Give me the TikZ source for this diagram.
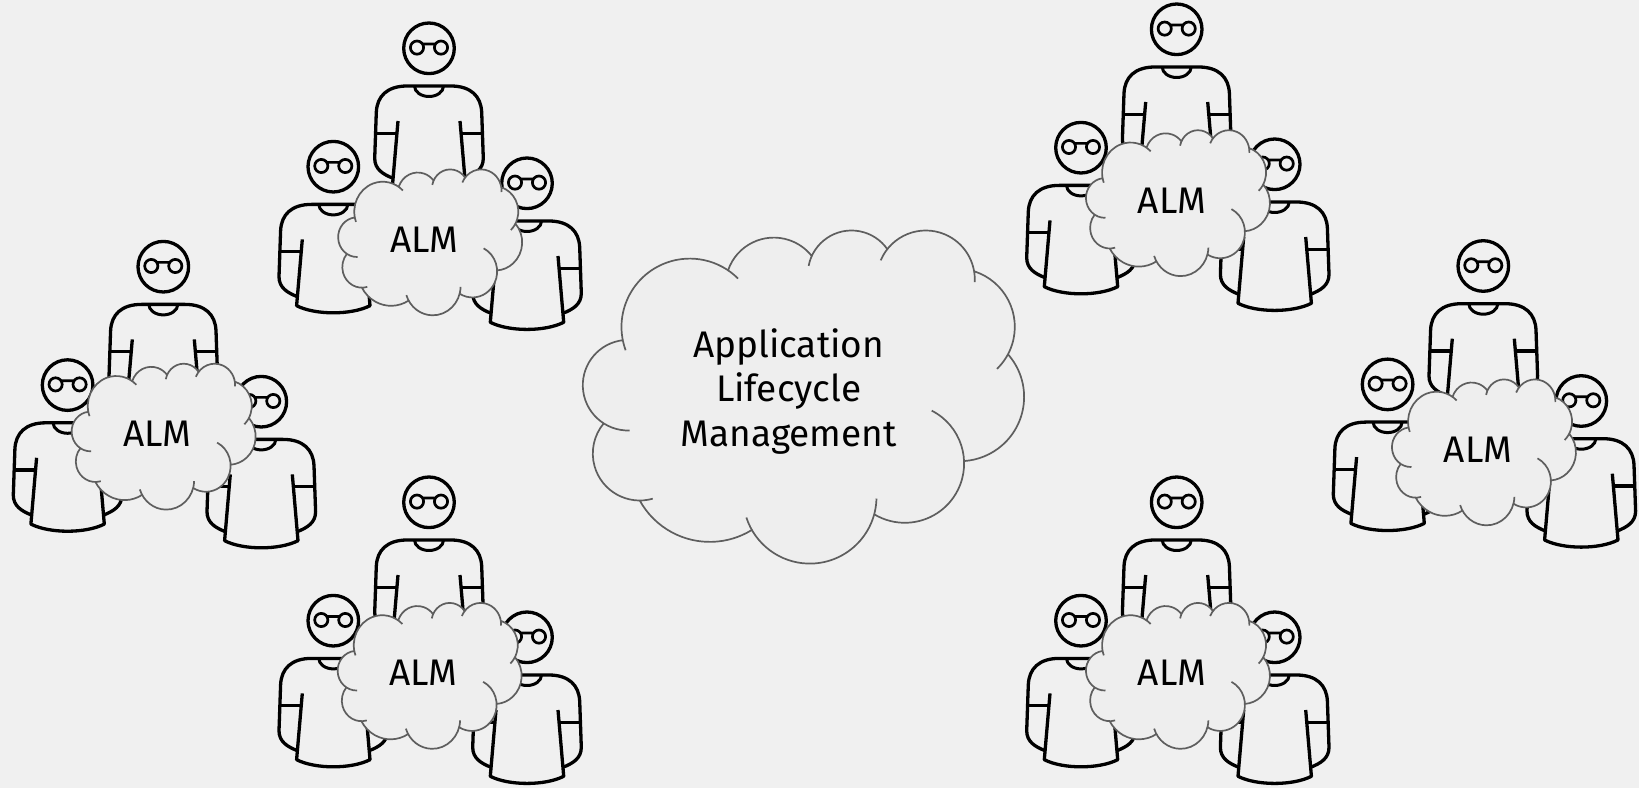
\documentclass[tikz,border=0pt]{standalone}
\usepackage{fontspec}
\setmainfont{Fira Sans}
\definecolor{canvas}{HTML}{F0F0F0}
\definecolor{puffgray}{HTML}{EEEEEE}
\definecolor{edgegray}{HTML}{5E5E5E}
\definecolor{ink}{HTML}{000000}

\tikzset{
  x=1pt, y=1pt,
  personline/.style={draw=ink, line width=3.3pt, line join=round},
  glassline/.style={draw=ink, line width=2.7pt},
  cloudstroke/.style={draw=edgegray, line width=1.7pt},
  almtext/.style={font=\fontsize{37}{45}\selectfont, text=ink, inner sep=0pt},
  coretext/.style={font=\fontsize{37}{44.5}\selectfont, text=ink, inner sep=0pt, align=center},
  % one person, origin at the centre of the head
  person/.pic={
    \fill[canvas] (0,0) circle[radius=25.3];
    \draw[personline] (0,0) circle[radius=25.3];
    \draw[glassline] (-12,0.7) circle[radius=6.6] (12,0.7) circle[radius=6.6]
      (-6.5,4.3) -- (6.5,4.3);
    \fill[canvas] (-35.9,-130) .. controls (-46,-126) and (-54.3,-121) .. (-54.3,-110)
      -- (-52.7,-64) .. controls (-52,-48) and (-42,-37.7) .. (-21.7,-37.7)
      -- (21.7,-37.7) .. controls (42,-37.7) and (52,-48) .. (52.7,-64)
      -- (54.3,-110) .. controls (54.3,-121) and (46,-126) .. (35.9,-130)
      -- (36.7,-139) .. controls (18,-148.5) and (-18,-148.5) .. (-36.7,-139) -- cycle;
    % arms and shoulders
    \draw[personline] (-35.9,-130) .. controls (-46,-126) and (-54.3,-121) .. (-54.3,-110)
      -- (-52.7,-64) .. controls (-52,-48) and (-42,-37.7) .. (-21.7,-37.7)
      -- (21.7,-37.7) .. controls (42,-37.7) and (52,-48) .. (52.7,-64)
      -- (54.3,-110) .. controls (54.3,-121) and (46,-126) .. (35.9,-130);
    % torso and hem
    \draw[personline] (-31,-72.7) -- (-36.7,-139)
      .. controls (-18,-148.5) and (18,-148.5) .. (36.7,-139) -- (31,-72.7);
    % sleeves
    \draw[personline] (-53.4,-85) -- (-32.1,-85) (32.1,-85) -- (53.4,-85);
    % collar
    \draw[personline, line width=3pt] (-14.5,-37.7)
      arc[start angle=180, end angle=360, x radius=14.5, y radius=10.5];
  },
  % three people: one at the back, two in front
  team/.pic={
    \pic at (0,0) {person};
    \pic at (-95.7,-118.4) {person};
    \pic at (98,-135) {person};
  },
  % cloud outline, origin at its centre
  puff/.pic={
    \fill[puffgray]
      ([shift={(-114.5,69.3)}]191.2:68.3) arc[start angle=191.2, end angle=56, radius=68.3]
      -- ([shift={(-30.5,110.3)}]161.2:48.3) arc[start angle=161.2, end angle=38.3, radius=48.3]
      -- ([shift={(47.2,122)}]155.4:43.7) arc[start angle=155.4, end angle=34.9, radius=43.7]
      -- ([shift={(121.5,116.7)}]141.8:49) arc[start angle=141.8, end angle=9.6, radius=49]
      -- ([shift={(152.2,69.3)}]72.4:58.3) arc[start angle=72.4, end angle=-28, radius=58.3]
      -- ([shift={(155.5,-0.7)}]41.5:64.3) arc[start angle=41.5, end angle=-86.3, radius=64.3]
      -- ([shift={(100.5,-67.3)}]2.3:59.3) arc[start angle=2.3, end angle=-121, radius=59.3]
      -- ([shift={(5.5,-100.7)}]-15.2:66.7) arc[start angle=-15.2, end angle=-150.4, radius=66.7]
      -- ([shift={(-94.5,-65.7)}]-58.3:80) arc[start angle=-58.3, end angle=-151.2, radius=80]
      -- ([shift={(-164.5,-57.3)}]-90:47) arc[start angle=-90, end angle=-220, radius=47]
      -- ([shift={(-176.2,11)}]237.5:45.3) arc[start angle=237.5, end angle=96.6, radius=45.3]
      -- cycle;
    \draw[cloudstroke]
      ([shift={(-114.5,69.3)}]200:68.3) arc[start angle=200, end angle=45, radius=68.3]
      ([shift={(-30.5,110.3)}]161.2:48.3) arc[start angle=161.2, end angle=38.3, radius=48.3]
      ([shift={(47.2,122)}]169:43.7) arc[start angle=169, end angle=34.9, radius=43.7]
      ([shift={(121.5,116.7)}]157:49) arc[start angle=157, end angle=-3, radius=49]
      ([shift={(152.2,69.3)}]72.4:58.3) arc[start angle=72.4, end angle=-46, radius=58.3]
      ([shift={(155.5,-0.7)}]41.5:64.3) arc[start angle=41.5, end angle=-86.3, radius=64.3]
      ([shift={(100.5,-67.3)}]63:59.3) arc[start angle=63, end angle=-121, radius=59.3]
      ([shift={(5.5,-100.7)}]-1.4:66.7) arc[start angle=-1.4, end angle=-162, radius=66.7]
      ([shift={(-94.5,-65.7)}]-58.3:80) arc[start angle=-58.3, end angle=-151.2, radius=80]
      ([shift={(-164.5,-57.3)}]-74:47) arc[start angle=-74, end angle=-220, radius=47]
      ([shift={(-176.2,11)}]272:45.3) arc[start angle=272, end angle=96.6, radius=45.3];
  },
  smallpuff/.style={xscale=0.417, yscale=0.438}
}

\begin{document}
\begin{tikzpicture}
  \useasboundingbox (0,0) rectangle (1639,788);
  \fill[canvas] (0,0) rectangle (1639,788);

  % teams, placed by the head of the person at the back
  \pic at (429,739.7)    {team};
  \pic at (163.3,521.3)  {team};
  \pic at (429,285.7)    {team};
  \pic at (1176.7,758.7) {team};
  \pic at (1483.3,522)   {team};
  \pic at (1176.7,285.7) {team};

  % central cloud
  \pic at (804.3,391.8) {puff};
  \node[coretext] (core) at (788.7,396.5) {Application\\Lifecycle\\Management};

  % team clouds
  \pic[smallpuff] at (430.5,546)   {puff};
  \pic[smallpuff] at (164,351.7)   {puff};
  \pic[smallpuff] at (430,112.5)   {puff};
  \pic[smallpuff] at (1178.3,585.2) {puff};
  \pic[smallpuff] at (1484.3,336)  {puff};
  \pic[smallpuff] at (1178.3,112.5) {puff};

  \node[almtext] (alm-nw) at (424.2,548.5) {ALM};
  \node[almtext] (alm-w)  at (157.7,354.2) {ALM};
  \node[almtext] (alm-sw) at (423.7,115)   {ALM};
  \node[almtext] (alm-ne) at (1172,587.7)  {ALM};
  \node[almtext] (alm-e)  at (1478,338.5)  {ALM};
  \node[almtext] (alm-se) at (1172,115)    {ALM};
\end{tikzpicture}
\end{document}
